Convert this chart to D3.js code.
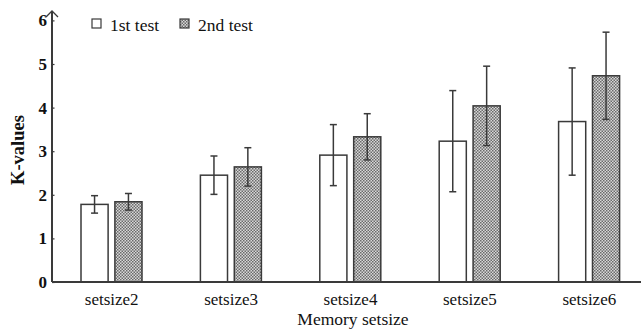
<!DOCTYPE html>
<html>
<head>
<meta charset="utf-8">
<script src="https://cdn.jsdelivr.net/npm/d3@7"></script>
<style>
  body { margin: 0; background: #fff; }
  svg text { font-family: "Liberation Serif", "Times New Roman", Times, "DejaVu Serif", serif; }
</style>
</head>
<body>
<div id="app"></div>
<script>
(function (d3) {
  'use strict'

  const categories = ['setsize2', 'setsize3', 'setsize4', 'setsize5', 'setsize6']
  const series = ['1st test', '2nd test']
  const test1 = [1.78, 2.45, 2.91, 3.23, 3.68]
  const test2 = [1.84, 2.64, 3.33, 4.04, 4.73]
  const err1 = [0.20, 0.44, 0.70, 1.16, 1.23]
  const err2 = [0.19, 0.44, 0.53, 0.91, 1.00]
  const yTicks = [0, 1, 2, 3, 4, 5, 6]

  const w = 641
  const h = 329
  const ink = '#3a3a3a'
  const serif = '"Liberation Serif", "Times New Roman", Times, "DejaVu Serif", serif'

  const svg = d3.select('#app')
    .append('svg')
    .attr('width', w)
    .attr('height', h)

  const defs = svg.append('defs')
  const pat = defs.append('pattern')
    .attr('id', 'checker')
    .attr('width', 3)
    .attr('height', 3)
    .attr('patternUnits', 'userSpaceOnUse')
  pat.append('rect').attr('width', 3).attr('height', 3).attr('fill', '#d8d8d8')
  pat.append('rect').attr('width', 1.5).attr('height', 1.5).attr('fill', '#6a6a6a')
  pat.append('rect').attr('x', 1.5).attr('y', 1.5).attr('width', 1.5).attr('height', 1.5).attr('fill', '#6a6a6a')

  const x0 = d3.scaleBand()
    .domain(categories)
    .range([52, 649])
    .paddingInner(0)
    .paddingOuter(0)

  const x1 = d3.scaleBand()
    .domain(series)
    .range([29, 90])
    .paddingInner(0.2)

  const y = d3.scaleLinear()
    .domain([0, 6])
    .range([282, 20.4])

  const fills = ['#fff', 'url(#checker)']

  const rows = []
  categories.forEach(function (c, i) {
    rows.push({ cat: c, s: series[0], v: test1[i], e: err1[i], k: 0 })
    rows.push({ cat: c, s: series[1], v: test2[i], e: err2[i], k: 1 })
  })

  // bars
  svg.append('g')
    .selectAll('rect')
    .data(rows)
    .enter().append('rect')
    .attr('x', function (d) { return x0(d.cat) + x1(d.s) })
    .attr('y', function (d) { return y(d.v) })
    .attr('width', x1.bandwidth())
    .attr('height', function (d) { return y(0) - y(d.v) })
    .attr('fill', function (d) { return fills[d.k] })
    .attr('stroke', ink)
    .attr('stroke-width', 1.5)

  // error bars
  const eg = svg.append('g')
    .attr('stroke', ink)
    .attr('stroke-width', 1.5)
  const cx = function (d) { return x0(d.cat) + x1(d.s) + x1.bandwidth() / 2 }
  eg.selectAll('line.v')
    .data(rows)
    .enter().append('line')
    .attr('class', 'v')
    .attr('x1', cx).attr('x2', cx)
    .attr('y1', function (d) { return y(d.v + d.e) })
    .attr('y2', function (d) { return y(d.v - d.e) })
  eg.selectAll('line.t')
    .data(rows)
    .enter().append('line')
    .attr('class', 't')
    .attr('x1', function (d) { return cx(d) - 3.5 })
    .attr('x2', function (d) { return cx(d) + 3.5 })
    .attr('y1', function (d) { return y(d.v + d.e) })
    .attr('y2', function (d) { return y(d.v + d.e) })
  eg.selectAll('line.b')
    .data(rows)
    .enter().append('line')
    .attr('class', 'b')
    .attr('x1', function (d) { return cx(d) - 3.5 })
    .attr('x2', function (d) { return cx(d) + 3.5 })
    .attr('y1', function (d) { return y(d.v - d.e) })
    .attr('y2', function (d) { return y(d.v - d.e) })

  // axes
  const yAxis = d3.axisLeft(y).tickValues(yTicks).tickFormat(d3.format('d')).tickSize(-2.5).tickPadding(6)
  const gy = svg.append('g')
    .attr('transform', 'translate(52,0)')
    .call(yAxis)
    .attr('font-family', serif)
  gy.select('.domain').remove()
  gy.selectAll('.tick line').attr('stroke', ink).attr('stroke-width', 1.2)
  gy.selectAll('.tick text')
    .attr('x', -5)
    .attr('fill', '#111')
    .attr('font-family', serif)
    .style('font-size', '17px')
    .style('font-weight', 'bold')

  svg.append('line')
    .attr('x1', 52).attr('x2', 52)
    .attr('y1', y(0)).attr('y2', 11)
    .attr('stroke', ink).attr('stroke-width', 2)
  svg.append('path')
    .attr('d', 'M46,17 L52,11 L58,17')
    .attr('fill', 'none')
    .attr('stroke', ink)
    .attr('stroke-width', 1.3)

  const xAxis = d3.axisBottom(x0).tickSize(0).tickPadding(11)
  const gx = svg.append('g')
    .attr('transform', 'translate(0,' + y(0) + ')')
    .call(xAxis)
    .attr('font-family', serif)
  gx.select('.domain').remove()
  gx.selectAll('.tick text')
    .attr('fill', '#111')
    .attr('font-family', serif)
    .style('font-size', '17px')
  svg.append('line')
    .attr('x1', 52).attr('x2', w)
    .attr('y1', y(0)).attr('y2', y(0))
    .attr('stroke', ink).attr('stroke-width', 2)

  // axis titles
  svg.append('text')
    .attr('x', 353)
    .attr('y', 325)
    .attr('text-anchor', 'middle')
    .attr('fill', '#111')
    .attr('font-family', serif)
    .style('font-size', '17.5px')
    .text('Memory setsize')

  svg.append('text')
    .attr('transform', 'translate(24,150) rotate(-90)')
    .attr('text-anchor', 'middle')
    .attr('fill', '#111')
    .attr('font-family', serif)
    .style('font-size', '18.5px')
    .style('font-weight', 'bold')
    .text('K-values')

  // legend
  const legend = svg.append('g')
  const lx = [92, 180]
  series.forEach(function (s, i) {
    legend.append('rect')
      .attr('x', lx[i]).attr('y', 19)
      .attr('width', 9).attr('height', 9)
      .attr('fill', fills[i])
      .attr('stroke', ink)
      .attr('stroke-width', 1.2)
    legend.append('text')
      .attr('x', lx[i] + 18).attr('y', 31)
      .attr('fill', '#111')
      .attr('font-family', serif)
      .style('font-size', '17.5px')
      .text(s)
  })

}(d3))
</script>
</body>
</html>
